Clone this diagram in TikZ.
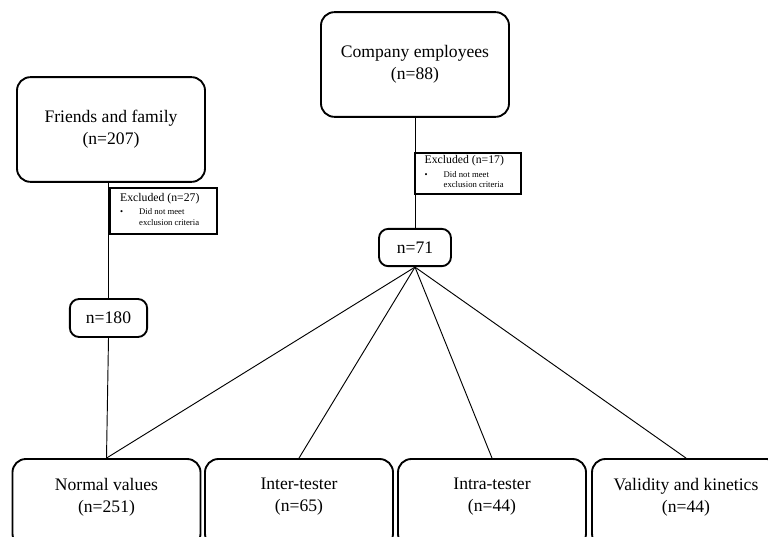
\documentclass[tikz,border=0pt]{standalone}
\usepackage{fontspec}
\setmainfont{Liberation Serif}
\newcommand{\exclnote}[1]{\spaceskip=0pt\xspaceskip=0pt Excluded (n=#1)\\[1.5pt]%
  {\fontsize{6.5}{8}\selectfont\spaceskip=0pt\xspaceskip=0pt
   \begin{tabular}{@{}l@{\hspace{12pt}}l@{}}\textbullet&Did not meet\\&exclusion criteria\end{tabular}}%
  \par\vspace*{-6pt}}
\begin{document}
\begin{tikzpicture}[x=0.75pt,y=-0.75pt,
  group/.style={draw,line width=1.4pt,rounded corners=10pt,align=center,inner sep=0pt,
    minimum width=141pt,font=\fontsize{13.2}{16.5}\selectfont},
  count/.style={draw,line width=1.4pt,rounded corners=7pt,inner sep=0pt,
    font=\fontsize{13.2}{16.5}\selectfont},
  excl/.style={draw,line width=1.5pt,align=left,inner xsep=7.5pt,inner ysep=0pt,
    text width=65pt,font=\fontsize{8.8}{10}\selectfont},
  txt/.style={align=center,inner sep=0pt,font=\fontsize{13.2}{16.5}\selectfont},
  link/.style={line width=0.7pt}]

\useasboundingbox (0,0) rectangle (768,536);

% sources
\node[group,minimum height=78.5pt] (friends) at (111,129.5) {Friends and family\\(n=207)};
\node[group,minimum height=78.5pt] (company) at (415,64.5) {Company employees\\(n=88)};

% excluded
\node[excl,minimum height=34pt] (ex27) at (163.5,211) {\exclnote{27}};
\node[excl,minimum height=31pt] (ex17) at (468,173.5) {\exclnote{17}};

% remaining
\node[count,minimum width=58pt,minimum height=28.5pt] (n180) at (108.5,318) {n=180};
\node[count,minimum width=54pt,minimum height=28pt] (n71) at (415,247.5) {n=71};

% studies (cut at the bottom)
\node[group,minimum height=66pt] (normal) at (106.5,503) {};
\node[group,minimum height=66pt] (inter) at (299,503) {};
\node[group,minimum height=66pt] (intra) at (492,503) {};
\node[group,minimum height=66pt] (valid) at (686,503) {};

\node[txt] (normal-t) at (106.5,497) {Normal values\\(n=251)};
\node[txt] (inter-t) at (299,497) {Inter-tester\\(n=65)};
\node[txt] (intra-t) at (492,497) {Intra-tester\\(n=44)};
\node[txt] (valid-t) at (686,497) {Validity and kinetics\\(n=44)};

\draw[link] (friends.south -| n180.north) -- (n180.north);
\draw[link] (n180.south) -- (normal.north);
\draw[link] (company.south) -- (n71.north);

\foreach \s in {normal,inter,intra,valid}
  \draw[link] (n71.south) -- (\s.north);

\end{tikzpicture}
\end{document}
